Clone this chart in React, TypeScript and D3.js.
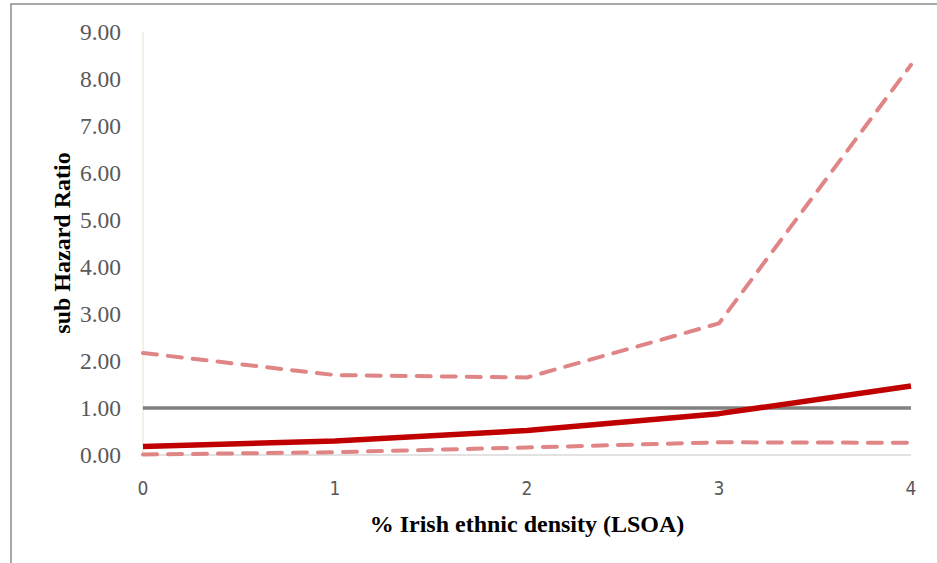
import React from "react";
import * as d3 from "d3";

const xValues = [0, 1, 2, 3, 4];
const estimate = [0.18, 0.3, 0.52, 0.88, 1.47];
const upperCI = [2.17, 1.7, 1.65, 2.8, 8.3];
const lowerCI = [0.01, 0.06, 0.16, 0.27, 0.26];
const reference = [1, 1, 1, 1, 1];
const yTicks = [0, 1, 2, 3, 4, 5, 6, 7, 8, 9];
const xTicks = [0, 1, 2, 3, 4];

export default function App() {
  const W = 937, H = 563;
  const x = d3.scaleLinear().domain([0, 4]).range([143, 911]);
  const y = d3.scaleLinear().domain([0, 9]).range([455, 32]);
  const mk = (vals: number[], curve: any) =>
    d3.line<number>().x((_, i) => x(xValues[i])).y((d) => y(d)).curve(curve)(vals) || "";
  return (
    <svg width={W} height={H} style={{ position: "absolute", left: 0, top: 0, background: "#fff" }}>
      <rect x={11} y={4} width={W} height={H} fill="#fff" stroke="#8c8c8c" strokeWidth={1.5} />
      <line x1={x(0)} x2={x(0)} y1={y(9)} y2={y(0)} stroke="#efebe0" strokeWidth={1.5} />
      <line x1={x(0)} x2={x(4)} y1={y(0)} y2={y(0)} stroke="#d9d9d9" strokeWidth={1.5} />
      {yTicks.map((t) => (
        <text key={t} x={121} y={y(t)} dy="0.35em" textAnchor="end" fontFamily="Liberation Serif" fontSize={23.5} fill="#595959">
          {t.toFixed(2)}
        </text>
      ))}
      {xTicks.map((t) => (
        <text key={t} x={x(t)} y={488} dy="0.35em" textAnchor="middle" fontFamily="DejaVu Sans Condensed, DejaVu Sans" fontWeight={300} fontSize={19} fill="#595959">
          {t}
        </text>
      ))}
      <path d={mk(reference, d3.curveLinear)} fill="none" stroke="#808080" strokeWidth={3.5} />
      <path d={mk(upperCI, d3.curveLinear)} fill="none" stroke="#e08585" strokeWidth={4} strokeDasharray="14 11" strokeLinecap="round" strokeLinejoin="round" />
      <path d={mk(lowerCI, d3.curveLinear)} fill="none" stroke="#e08585" strokeWidth={4} strokeDasharray="14 11" strokeLinecap="round" strokeLinejoin="round" />
      <path d={mk(estimate, d3.curveLinear)} fill="none" stroke="#c00000" strokeWidth={5.5} strokeLinejoin="round" />
      <text transform="translate(62,243) rotate(-90)" textAnchor="middle" dy="0.35em" fontFamily="Liberation Serif" fontWeight="bold" fontSize={24} fill="#000">
        sub Hazard Ratio
      </text>
      <text x={527} y={524} textAnchor="middle" dy="0.35em" fontFamily="Liberation Serif" fontWeight="bold" fontSize={24} fill="#000">
        % Irish ethnic density (LSOA)
      </text>
    </svg>
  );
}
